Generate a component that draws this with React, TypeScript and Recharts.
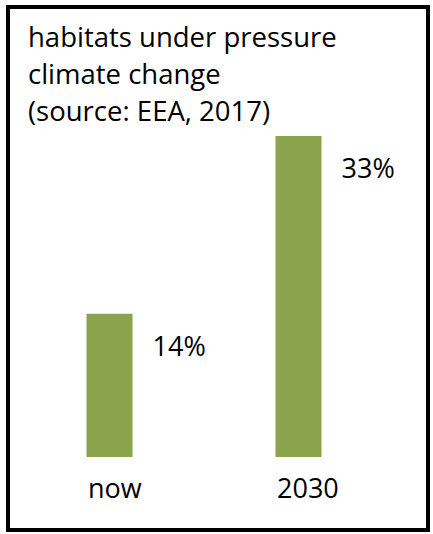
import React from "react";
import { BarChart, Bar, XAxis, YAxis, LabelList } from "recharts";

const categories = ["now", "2030"];
const shareValues = [14.5, 32.5];
const shareLabels = ["14%", "33%"];
const titleLines = ["habitats under pressure", "climate change", "(source: EEA, 2017)"];

const data = categories.map((c, i) => ({ name: c, value: shareValues[i], label: shareLabels[i] }));

const FONT = "'Open Sans', sans-serif";

const Tick = (props: any) => {
  const { x, y, payload } = props;
  return (
    <text x={x - 21} y={y + 41} textAnchor="start" fontFamily={FONT} fontSize={27} fill="#000">
      {payload.value}
    </text>
  );
};

const ValueLabel = (props: any) => {
  const { x, y, width, index } = props;
  return (
    <text x={x + width + 20} y={y + 42} textAnchor="start" fontFamily={FONT} fontSize={27} fill="#000">
      {shareLabels[index]}
    </text>
  );
};

export default function App() {
  return (
    <div style={{ position: "absolute", left: 0, top: 0, width: 433, height: 534, background: "#fff" }}>
      <div
        style={{
          position: "absolute",
          left: 6,
          top: 5,
          width: 424,
          height: 527,
          border: "4px solid #000",
          boxSizing: "border-box",
        }}
      />
      <div
        style={{
          position: "absolute",
          left: 28,
          top: 18,
          fontFamily: FONT,
          fontSize: 27.5,
          lineHeight: "37px",
          color: "#000",
          whiteSpace: "nowrap",
        }}
      >
        {titleLines.map((t) => (
          <div key={t}>{t}</div>
        ))}
      </div>
      <div style={{ position: "absolute", left: 0, top: 0 }}>
        <BarChart
          width={433}
          height={534}
          data={data}
          margin={{ top: 136, right: 40.5, bottom: 47, left: 14.5 }}
        >
          <XAxis
            dataKey="name"
            axisLine={false}
            tickLine={false}
            tickSize={0}
            tickMargin={0}
            height={30}
            tick={<Tick />}
            interval={0}
          />
          <YAxis type="number" domain={[0, 32.5]} hide />
          <Bar dataKey="value" fill="#8BA34C" barSize={46} isAnimationActive={false}>
            <LabelList dataKey="label" content={<ValueLabel />} />
          </Bar>
        </BarChart>
      </div>
    </div>
  );
}
